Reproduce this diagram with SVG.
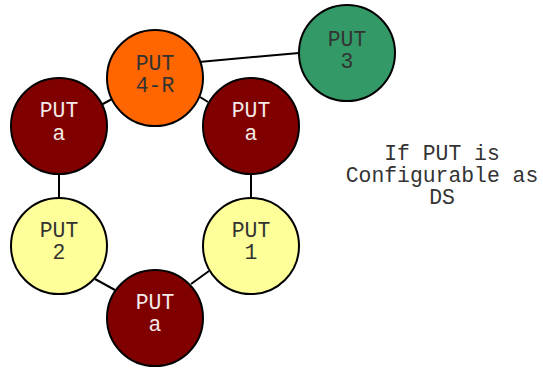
<svg xmlns="http://www.w3.org/2000/svg" width="543" height="369" viewBox="0 0 543 369">
<style>
.n{stroke:#000;stroke-width:2}
.t{font-family:"Liberation Mono","Courier New",monospace;font-size:21.4px;text-anchor:middle}
.dk{fill:#333}
.lt{fill:#f4eaea}
.c{stroke:#000;stroke-width:2;fill:none}
</style>
<rect width="543" height="369" fill="#fff"/>
<g id="connectors">
<line class="c" x1="199" y1="62" x2="299" y2="53"/>
<line class="c" x1="101" y1="105" x2="112" y2="99"/>
<line class="c" x1="200" y1="97" x2="208" y2="102"/>
<line class="c" x1="59" y1="174" x2="59" y2="198"/>
<line class="c" x1="251" y1="174" x2="251" y2="198"/>
<line class="c" x1="95" y1="279" x2="115" y2="290"/>
<line class="c" x1="191" y1="284" x2="209" y2="271"/>
</g>
<g id="put4r">
<circle class="n" cx="155" cy="78" r="48" fill="#FF6600"/>
<text class="t dk" x="155" y="70">PUT</text>
<text class="t dk" x="155" y="92">4-R</text>
</g>
<g id="put3">
<circle class="n" cx="347" cy="53" r="48" fill="#339966"/>
<text class="t dk" x="347" y="46">PUT</text>
<text class="t dk" x="347" y="68">3</text>
</g>
<g id="puta-left">
<circle class="n" cx="59" cy="126" r="48" fill="#800000"/>
<text class="t lt" x="59" y="117">PUT</text>
<text class="t lt" x="59" y="140">a</text>
</g>
<g id="puta-right">
<circle class="n" cx="251" cy="126" r="48" fill="#800000"/>
<text class="t lt" x="251" y="117">PUT</text>
<text class="t lt" x="251" y="140">a</text>
</g>
<g id="put2">
<circle class="n" cx="59" cy="246" r="48" fill="#FFFF99"/>
<text class="t dk" x="59" y="237">PUT</text>
<text class="t dk" x="59" y="259">2</text>
</g>
<g id="put1">
<circle class="n" cx="251" cy="246" r="48" fill="#FFFF99"/>
<text class="t dk" x="251" y="237">PUT</text>
<text class="t dk" x="251" y="259">1</text>
</g>
<g id="puta-bottom">
<circle class="n" cx="155" cy="318" r="48" fill="#800000"/>
<text class="t lt" x="155" y="309">PUT</text>
<text class="t lt" x="155" y="331">a</text>
</g>
<g id="note">
<text class="t dk" x="442" y="160">If PUT is</text>
<text class="t dk" x="442" y="182">Configurable as</text>
<text class="t dk" x="442" y="204">DS</text>
</g>
</svg>
